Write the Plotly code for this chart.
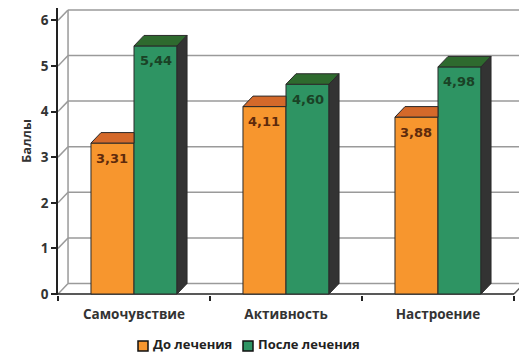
import plotly.graph_objects as go

# Scores before / after treatment
categories = ["Самочувствие", "Активность", "Настроение"]
before = [3.31, 4.11, 3.88]
after = [5.44, 4.60, 4.98]
series_names = ["До лечения", "После лечения"]
y_ticks = [0, 1, 2, 3, 4, 5, 6]
y_title = "Баллы"

FONT = "Open Sans"
NUM_FONT = "DejaVu Sans"
C_ORANGE, C_ORANGE_TOP = "#F7962E", "#D4692A"
C_GREEN, C_GREEN_TOP = "#2E9463", "#2E6A2E"
C_SIDE = "#333333"
C_EDGE = "#2a2a2a"
C_GRID = "#9a9a9a"

W = 0.283     # width of one bar (category units)
DX = 0.066    # depth offset, x units
DY = 0.23     # depth offset, y units
X0, X1 = -0.5, 2.533
Y0, Y1 = -0.022, 6.272

fig = go.Figure()

xs = list(range(len(categories)))

# front faces
fig.add_trace(go.Bar(x=xs, y=before, width=W, offset=-W, marker=dict(color=C_ORANGE, line=dict(color=C_EDGE, width=1)),
                     name=series_names[0], showlegend=False))
fig.add_trace(go.Bar(x=xs, y=after, width=W, offset=0, marker=dict(color=C_GREEN, line=dict(color=C_EDGE, width=1)),
                     name=series_names[1], showlegend=False))


def poly(pts, color):
    px = [p[0] for p in pts] + [pts[0][0]]
    py = [p[1] for p in pts] + [pts[0][1]]
    fig.add_trace(go.Scatter(x=px, y=py, mode="lines", fill="toself", fillcolor=color,
                             line=dict(color=C_EDGE, width=1), hoverinfo="skip", showlegend=False))


for i, (b, a) in enumerate(zip(before, after)):
    # top of the front bar, the part not hidden behind the taller neighbour
    if a >= b:
        poly([(i - W, b), (i, b), (i, b + DY), (i - W + DX, b + DY)], C_ORANGE_TOP)
    else:
        poly([(i - W, b), (i, b), (i + DX, b + DY), (i - W + DX, b + DY)], C_ORANGE_TOP)
        poly([(i, 0), (i + DX, DY), (i + DX, b + DY), (i, b)], C_SIDE)
    # top and side of the second bar
    poly([(i, a), (i + W, a), (i + W + DX, a + DY), (i + DX, a + DY)], C_GREEN_TOP)
    poly([(i + W, 0), (i + W + DX, DY), (i + W + DX, a + DY), (i + W, a)], C_SIDE)

# value labels inside the bars
ann = []
for i, (b, a) in enumerate(zip(before, after)):
    ann.append(dict(x=i - W / 2, y=b, yshift=-15, text=f"{b:.2f}".replace(".", ","), showarrow=False,
                    font=dict(family=NUM_FONT, size=13, color="#5e2a0c", weight="bold")))
    ann.append(dict(x=i + W / 2, y=a, yshift=-15, text=f"{a:.2f}".replace(".", ","), showarrow=False,
                    font=dict(family=NUM_FONT, size=13, color="#1a4226", weight="bold")))

# axis title
ann.append(dict(xref="paper", yref="paper", x=-43 / 461, y=(295 - 141) / 287, text=y_title, textangle=-90,
                showarrow=False, font=dict(family=FONT, size=13, color="#333", weight="bold")))

# walls and floor grid
shapes = []
xl, xr = X0, X0 + 3
for k in y_ticks:
    shapes.append(dict(type="line", x0=xl, y0=k, x1=xl + DX, y1=k + DY, line=dict(color=C_GRID, width=1.5), layer="below"))
    shapes.append(dict(type="line", x0=xl + DX, y0=k + DY, x1=X1 + 0.2, y1=k + DY,
                       line=dict(color=C_GRID, width=1.5), layer="below"))
shapes.append(dict(type="line", x0=xl + DX, y0=DY, x1=xl + DX, y1=y_ticks[-1] + DY,
                   line=dict(color=C_GRID, width=1.5), layer="below"))
shapes.append(dict(type="line", x0=xr, y0=0, x1=xr + DX, y1=DY, line=dict(color="#555", width=1.5), layer="below"))
shapes.append(dict(type="line", x0=xl, y0=0, x1=xr, y1=0, line=dict(color="#222", width=1.5), layer="below"))

# legend drawn as swatches + labels
leg = [(138, series_names[0], C_ORANGE), (243, series_names[1], C_GREEN)]
for px, name, col in leg:
    shapes.append(dict(type="rect", xref="paper", yref="paper",
                       x0=(px - 58) / 461, x1=(px + 10 - 58) / 461,
                       y0=-(351 - 295) / 287, y1=-(341 - 295) / 287,
                       fillcolor=col, line=dict(color="#111", width=1.5)))
    ann.append(dict(xref="paper", yref="paper", x=(px + 13 - 58) / 461, y=-(344 - 295) / 287,
                    xanchor="left", yanchor="middle", text=name, showarrow=False,
                    font=dict(family=FONT, size=13, color="#222", weight="bold")))

fig.update_layout(
    width=519, height=353,
    margin=dict(l=58, r=0, t=8, b=58),
    plot_bgcolor="white", paper_bgcolor="white",
    showlegend=False,
    barmode="overlay",
    annotations=ann, shapes=shapes,
    xaxis=dict(range=[X0, X1], tickvals=xs, ticktext=categories, ticks="", showgrid=False, zeroline=False,
               showline=False, ticklabelstandoff=9,
               tickfont=dict(family=FONT, size=13.5, color="#333", weight="bold"),
               minor=dict(tickvals=[-0.5, 0.5, 1.5, 2.5], ticks="outside", ticklen=5, tickwidth=1.5,
                          tickcolor="#222", showgrid=False)),
    yaxis=dict(range=[Y0, Y1], tickvals=y_ticks, showgrid=False, zeroline=False, showline=True,
               linecolor="#222", linewidth=1.5, ticks="outside", ticklen=5, tickwidth=1.5, tickcolor="#222",
               tickfont=dict(family=FONT, size=13.5, color="#333", weight="bold")),
)

fig.write_html("out.html")
